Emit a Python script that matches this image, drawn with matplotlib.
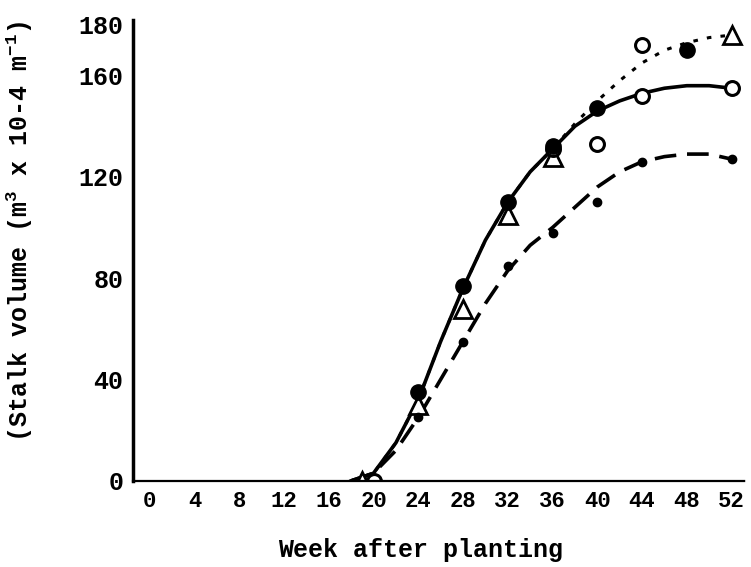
import matplotlib.pyplot as plt

plt.rcParams["font.family"] = ["Liberation Mono", "DejaVu Sans Mono"]
plt.rcParams["font.weight"] = "bold"
plt.rcParams["axes.labelweight"] = "bold"
plt.rcParams["mathtext.fontset"] = "custom"
plt.rcParams["mathtext.rm"] = "Liberation Mono:bold"

# fitted curves, read every 2 weeks
curve_weeks = [18, 20, 22, 24, 26, 28, 30, 32, 34, 36, 38, 40, 42, 44, 46, 48, 50, 52]
solid_curve = [0, 3, 15, 32, 55, 76, 95, 110, 122, 131, 140, 146, 150, 153, 155, 156, 156, 155]
dotted_curve = [0, 3, 15, 32, 55, 76, 95, 110, 122, 131, 141, 150, 158, 165, 170, 173, 175, 176]
dashed_curve = [0, 3, 12, 25, 40, 55, 70, 83, 93, 100, 108, 116, 122, 126, 128, 129, 129, 127]

# observed points
tri_weeks = [19, 24, 28, 32, 36, 52]
tri_vals = [0, 30, 68, 105, 128, 176]
big_dot_weeks = [24, 28, 32, 36, 40, 48]
big_dot_vals = [35, 77, 110, 132, 147, 170]
circle_weeks = [20, 36, 40, 44, 44, 52]
circle_vals = [0, 131, 133, 152, 172, 155]
small_dot_weeks = [24, 28, 32, 36, 40, 44, 52]
small_dot_vals = [25, 55, 85, 98, 110, 126, 127]

x_ticks = [0, 4, 8, 12, 16, 20, 24, 28, 32, 36, 40, 44, 48, 52]
y_ticks = [0, 40, 80, 120, 160, 180]

fig = plt.figure(figsize=(7.51, 5.67), dpi=100)
ax = fig.add_axes([0.177, 0.152, 0.815, 0.813])

ax.plot(curve_weeks, solid_curve, color="black", lw=2.6)
ax.plot(curve_weeks, dotted_curve, color="black", lw=2.2, ls=(0, (1.5, 3)))
ax.plot(curve_weeks, dashed_curve, color="black", lw=2.6, ls=(0, (6, 3)))

ax.plot(tri_weeks, tri_vals, ls="none", marker="^", ms=13, mfc="white", mec="black", mew=2)
ax.plot(circle_weeks, circle_vals, ls="none", marker="o", ms=10, mfc="white", mec="black", mew=2.2)
ax.plot(big_dot_weeks, big_dot_vals, ls="none", marker="o", ms=11, color="black")
ax.plot(small_dot_weeks, small_dot_vals, ls="none", marker="o", ms=6, color="black")

ax.set_xlim(-1.5, 53.2)
ax.set_ylim(0, 182)
ax.set_xticks(x_ticks)
ax.set_yticks(y_ticks)
ax.tick_params(length=0)
ax.tick_params(axis="x", pad=7, labelsize=16)
ax.tick_params(axis="y", pad=7, labelsize=18)

ax.spines["top"].set_visible(False)
ax.spines["right"].set_visible(False)
ax.spines["left"].set_linewidth(2.5)
ax.spines["bottom"].set_linewidth(1.6)
ax.spines["bottom"].set_linestyle((0, (5, 1)))

ax.set_xlabel("Week after planting", fontsize=18)
ax.xaxis.set_label_coords(0.47, -0.125)
ax.set_ylabel("(Stalk volume (m$^3$ x 10-4 m$^{-1}$)", fontsize=18)
ax.yaxis.set_label_coords(-0.16, 0.54)

plt.savefig("out.png", dpi=100)
